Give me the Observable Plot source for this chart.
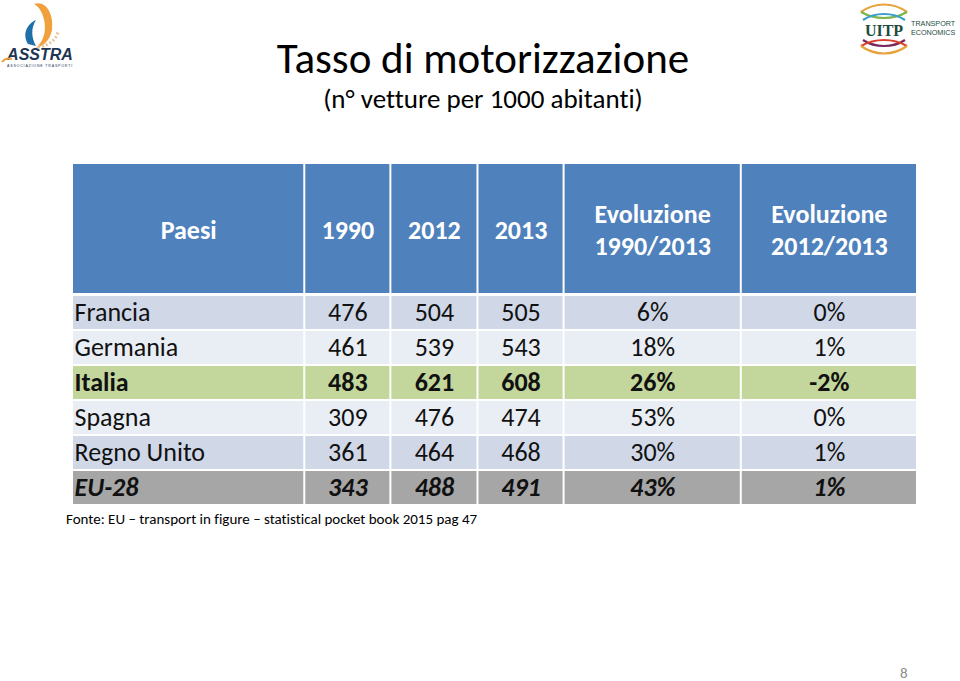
<!DOCTYPE html>
<html>
<head>
<meta charset="utf-8">
<script src="https://cdn.jsdelivr.net/npm/d3@7"></script>
<script src="https://cdn.jsdelivr.net/npm/@observablehq/plot@0.6"></script>
<style>
  html, body { margin: 0; padding: 0; background: #fff; }
  #page { position: relative; width: 960px; height: 681px; overflow: hidden; font-family: Carlito, Calibri, Lato, "Open Sans", sans-serif; font-variant-ligatures: none; font-feature-settings: "liga" 0, "clig" 0; }
  #page svg text { font-variant-ligatures: none; font-feature-settings: "liga" 0, "clig" 0; }
  #title { position: absolute; left: 0; width: 966px; top: 37px; text-align: center; font-size: 43px; color: #000; line-height: 1; }
  #subtitle { position: absolute; left: 0; width: 966px; top: 85px; text-align: center; font-size: 27px; color: #000; line-height: 1; }
  #chart { position: absolute; left: 0; top: 160px; }
  #note { position: absolute; left: 66px; top: 512px; font-size: 15px; color: #000; white-space: nowrap; line-height: 1; }
  #pagenum { position: absolute; left: 900px; top: 664px; font-size: 15px; color: #8c8c8c; }
  .logo { position: absolute; top: 0; }
</style>
</head>
<body>
<div id="page">
  <svg class="logo" style="left:0" width="80" height="72" viewBox="0 0 80 72">
    <path d="M34 4 C 46 0, 54 14, 52 30 C 50 40, 44 46, 36 48 C 45 40, 47 28, 43 16 C 41 10, 38 6, 34 4 Z" fill="#f0a03c"/>
    <path d="M28 44 C 22 34, 27 24, 36 20 C 31 28, 31 37, 36 46 Z" fill="#1f6fa8"/>
    <path d="M38 47 C 48 46, 56 40, 58 32" stroke="#e9c49a" stroke-width="3" fill="none" stroke-dasharray="2 2"/>
    <text x="40" y="60" text-anchor="middle" font-family="Liberation Sans, Arial, sans-serif" font-weight="bold" font-style="italic" font-size="16" fill="#1e3553">ASSTRA</text>
    <path d="M2 62 C 5 58, 9 58, 12 59" stroke="#f0a03c" stroke-width="2" fill="none"/>
    <text x="40" y="67" text-anchor="middle" font-family="Liberation Sans, Arial, sans-serif" font-size="3.6" fill="#1e3553" letter-spacing="0.8">ASSOCIAZIONE  TRASPORTI</text>
  </svg>
  <svg class="logo" style="left:855px" width="105" height="60" viewBox="0 0 105 60">
    <path d="M6 12 C 20 2, 38 2, 52 12" stroke="#e8a23a" stroke-width="2.2" fill="none"/>
    <path d="M6 12 C 20 20, 38 20, 52 12" stroke="#7ab648" stroke-width="2.2" fill="none"/>
    <path d="M8 20 C 20 12, 38 12, 50 20" stroke="#3aa0c8" stroke-width="2.2" fill="none"/>
    <path d="M8 40 C 20 48, 38 48, 50 40" stroke="#7a2a5a" stroke-width="2.2" fill="none"/>
    <path d="M6 46 C 20 38, 38 38, 52 46" stroke="#d9412b" stroke-width="2.2" fill="none"/>
    <path d="M6 46 C 20 56, 38 56, 52 46" stroke="#e8a23a" stroke-width="2.2" fill="none"/>
    <text x="29" y="36" text-anchor="middle" font-family="Liberation Serif, Times, serif" font-weight="bold" font-size="16" fill="#1d4b3c">UITP</text>
    <text x="56" y="26" font-family="Liberation Sans, Arial, sans-serif" font-size="7.2" fill="#1d4b3c">TRANSPORT</text>
    <text x="56" y="35" font-family="Liberation Sans, Arial, sans-serif" font-size="7.2" fill="#1d4b3c">ECONOMICS</text>
  </svg>
  <div id="title">Tasso di motorizzazione</div>
  <div id="subtitle">(n° vetture per 1000 abitanti)</div>
  <div id="chart"></div>
  <div id="note">Fonte: EU – transport in figure – statistical pocket book 2015 pag 47</div>
  <div id="pagenum">8</div>
</div>
<script>
// ---- data ----
const headers = ["Paesi", "1990", "2012", "2013", "Evoluzione\n1990/2013", "Evoluzione\n2012/2013"];
const paesi = ["Francia", "Germania", "Italia", "Spagna", "Regno Unito", "EU-28"];
const v1990 = [476, 461, 483, 309, 361, 343];
const v2012 = [504, 539, 621, 476, 464, 488];
const v2013 = [505, 543, 608, 474, 468, 491];
const evo19902013 = [6, 18, 26, 53, 30, 43];   // percent
const evo20122013 = [0, 1, -2, 0, 1, 1];       // percent

// ---- layout / style (not data) ----
const colW = [232, 86, 87, 86, 177, 176];
const headerH = 132, rowH = 35;
const colX = [0]; colW.forEach(w => colX.push(colX[colX.length - 1] + w));
const totalW = colX[colX.length - 1];
const totalH = headerH + rowH * paesi.length;
const rowFill = ["#d0d8e8", "#e9edf4", "#c3d69b", "#e9edf4", "#d0d8e8", "#a6a6a6"];
const rowKind = ["normal", "normal", "bold", "normal", "normal", "bolditalic"];
const FONT = "Carlito, Calibri, Lato, 'Open Sans', sans-serif";
const FS = 26;

const pct = v => `${v}%`;
const columns = [paesi, v1990.map(String), v2012.map(String), v2013.map(String), evo19902013.map(pct), evo20122013.map(pct)];

const headCells = headers.map((h, c) => ({c, label: h, x1: colX[c], x2: colX[c + 1], y1: 0, y2: headerH - 1}));
const bodyCells = [];
paesi.forEach((p, r) => {
  columns.forEach((col, c) => {
    bodyCells.push({
      r, c, label: col[r],
      x1: colX[c], x2: colX[c + 1],
      y1: headerH + r * rowH, y2: headerH + (r + 1) * rowH,
      fill: rowFill[r], kind: rowKind[r]
    });
  });
});

function textMarks(kind, weight, style) {
  const cells = bodyCells.filter(d => d.kind === kind);
  return [
    Plot.text(cells.filter(d => d.c === 0), {
      x: d => d.x1 + 2, y: d => (d.y1 + d.y2) / 2,
      text: "label", fill: "#111", fontSize: FS, textAnchor: "start",
      fontWeight: weight, fontStyle: style
    }),
    Plot.text(cells.filter(d => d.c > 0), {
      x: d => (d.x1 + d.x2) / 2, y: d => (d.y1 + d.y2) / 2,
      text: "label", fill: "#111", fontSize: FS, textAnchor: "middle",
      fontWeight: weight, fontStyle: style
    })
  ];
}

const chart = Plot.plot({
  width: 960,
  height: 348,
  marginLeft: 72,
  marginRight: 43,
  marginTop: 3,
  marginBottom: 3,
  x: {domain: [0, totalW], axis: null},
  y: {domain: [0, totalH], reverse: true, axis: null},
  style: {fontFamily: FONT, background: "transparent"},
  marks: [
    Plot.rect(headCells, {x1: "x1", x2: "x2", y1: "y1", y2: "y2", fill: "#4f81bd", inset: 1}),
    Plot.rect(bodyCells, {x1: "x1", x2: "x2", y1: "y1", y2: "y2", fill: "fill", inset: 1}),
    Plot.text(headCells, {
      x: d => (d.x1 + d.x2) / 2, y: d => (d.y1 + d.y2) / 2,
      text: "label", fill: "white", fontWeight: "bold", fontSize: FS, lineHeight: 1.2,
      textAnchor: "middle"
    }),
    ...textMarks("normal", "normal", "normal"),
    ...textMarks("bold", "bold", "normal"),
    ...textMarks("bolditalic", "bold", "italic")
  ]
});
document.getElementById("chart").appendChild(chart);
</script>
</body>
</html>
